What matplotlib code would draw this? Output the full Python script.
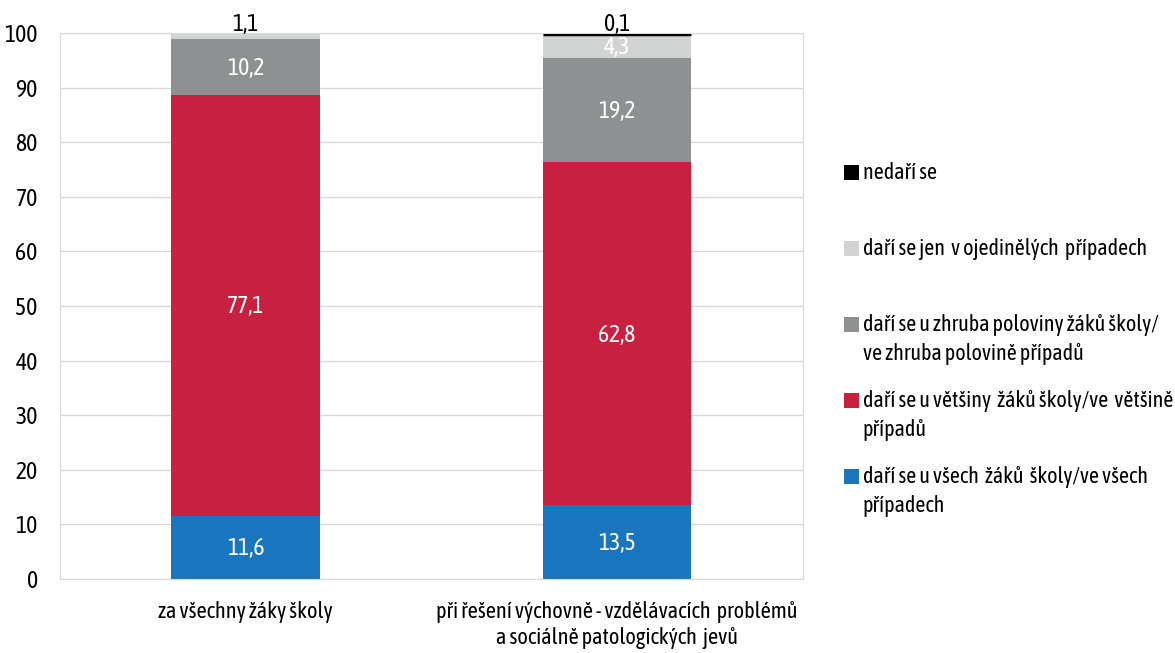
import numpy as np
import matplotlib.pyplot as plt
from matplotlib.patches import Rectangle

plt.rcParams['font.family'] = ['Asap Condensed', 'Barlow Semi Condensed', 'Liberation Sans', 'DejaVu Sans']

# Data
categories = ['za všechny žáky školy',
              'při řešení výchovně - vzdělávacích  problémů\na sociálně patologických  jevů']
series_names = ['daří se u všech  žáků  školy/ve všech\npřípadech',
                'daří se u většiny  žáků školy/ve  většině\npřípadů',
                'daří se u zhruba poloviny žáků školy/\nve zhruba polovině případů',
                'daří se jen  v ojedinělých  případech',
                'nedaří se']
vsech = [11.6, 13.5]
vetsiny = [77.1, 62.8]
poloviny = [10.2, 19.2]
ojedinele = [1.1, 4.3]
nedari = [0.0, 0.1]
series = [vsech, vetsiny, poloviny, ojedinele, nedari]
colors = ['#1a75bf', '#c8203f', '#8e9192', '#d2d3d3', '#000000']

W, H = 1175, 653
fig = plt.figure(figsize=(W / 100, H / 100), dpi=100)
ax = fig.add_axes([0.051, 0.1133, 0.632, 0.8362])

x = np.arange(len(categories))
bottom = np.zeros(len(categories))
for vals, col in zip(series, colors):
    vals = np.array(vals)
    # the tiny black segment gets a thick edge so it shows up as a line
    lw = [2.5 if (col == '#000000' and v > 0) else 0 for v in vals]
    ax.bar(x, vals, 0.4, bottom=bottom, color=col, edgecolor=col,
           linewidth=lw, zorder=2)
    bottom += vals

# value labels
bottom = np.zeros(len(categories))
for si, vals in enumerate(series):
    for i, v in enumerate(vals):
        b = bottom[i]
        if si == 3 and i == 0:
            ax.text(x[i], 99.4, '1,1', ha='center', va='bottom', fontsize=17, color='black')
        elif si == 4:
            if v > 0:
                ax.text(x[i], 99.4, '0,1', ha='center', va='bottom', fontsize=17, color='black')
        else:
            ax.text(x[i], b + v / 2 - 0.3, f'{v:.1f}'.replace('.', ','), ha='center',
                    va='center', fontsize=17, color='white')
    bottom += np.array(vals)

ax.set_xlim(-0.5, 1.5)
ax.set_ylim(0, 100)
ax.set_yticks(np.arange(0, 101, 10))
ax.set_xticks(x)
ax.set_xticklabels(categories, fontsize=16, linespacing=1.2)
ax.tick_params(axis='both', length=0, labelsize=17)
ax.tick_params(axis='x', pad=16, labelsize=16)
ax.tick_params(axis='y', pad=16)
ax.grid(axis='y', color='#d9d9d9', linewidth=1, zorder=0)
for s in ax.spines.values():
    s.set_color('#d9d9d9')

# legend (Excel style: entries in fixed slots, marker on first line)
leg_x, first_base, step, line_gap = 844, 179, 76, 29
for k, (name, col) in enumerate(zip(series_names[::-1], colors[::-1])):
    base = first_base + k * step
    fig.add_artist(Rectangle((leg_x / W, 1 - (base + 1) / H), 15 / W, 15 / H,
                             transform=fig.transFigure, facecolor=col,
                             edgecolor='none'))
    for j, line in enumerate(name.split('\n')):
        fig.text((leg_x + 19) / W, 1 - (base + j * line_gap) / H, line,
                 ha='left', va='baseline', fontsize=15.8)

fig.savefig('out.png', dpi=100)
